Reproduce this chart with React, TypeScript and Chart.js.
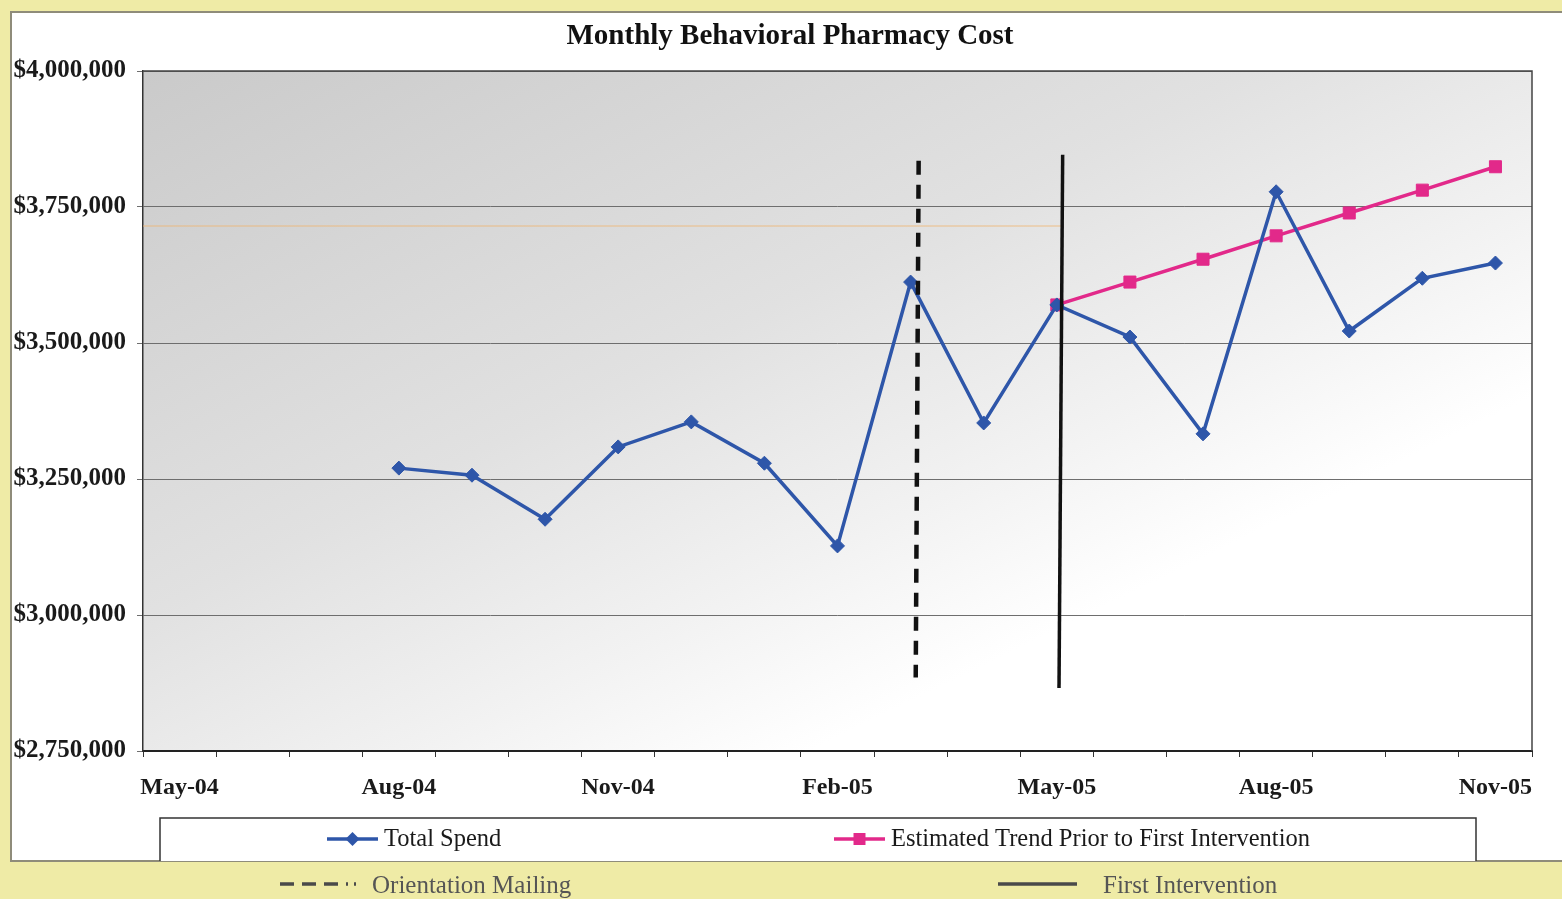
import React, { useEffect, useRef } from 'react';
import { Chart, registerables } from 'chart.js';

Chart.register(...registerables);

// ---------------- data ----------------
const months = [
  'May-04', 'Jun-04', 'Jul-04', 'Aug-04', 'Sep-04', 'Oct-04', 'Nov-04', 'Dec-04', 'Jan-05',
  'Feb-05', 'Mar-05', 'Apr-05', 'May-05', 'Jun-05', 'Jul-05', 'Aug-05', 'Sep-05', 'Oct-05', 'Nov-05',
];

const totalSpend: (number | null)[] = [
  null, null, null, 3270000, 3257000, 3176000, 3309000, 3355000, 3279000,
  3127000, 3612000, 3353000, 3570000, 3511000, 3333000, 3778000, 3522000, 3619000, 3647000,
];

const estimatedTrend: (number | null)[] = [
  null, null, null, null, null, null, null, null, null,
  null, null, null, 3570000, 3612000, 3654000, 3697000, 3739000, 3781000, 3824000,
];

const xAxisLabels = ['May-04', 'Aug-04', 'Nov-04', 'Feb-05', 'May-05', 'Aug-05', 'Nov-05'];

const yMin = 2750000;
const yMax = 4000000;
const yStep = 250000;

const chartTitle = 'Monthly Behavioral Pharmacy Cost';
const seriesNames = ['Total Spend', 'Estimated Trend Prior to First Intervention'];

// vertical event markers (month + fraction of a month step, value range)
const eventLines = [
  { name: 'Orientation Mailing', month: 'Mar-05', topShift: 0.11, bottomShift: 0.07, from: 2885000, to: 3835000, dashed: true },
  { name: 'First Intervention', month: 'May-05', topShift: 0.08, bottomShift: 0.03, from: 2866000, to: 3846000, dashed: false },
];

// faint scanned streak
const streakValue = 3715000;

// ---------------- styles ----------------
const W = 1562;
const H = 899;
const SERIF = '"Liberation Serif", "Times New Roman", serif';
const BLUE = '#2E56A9';
const PINK = '#E2298A';
const YELLOW = '#EFEBA6';

const decorPlugin = {
  id: 'decor',
  beforeDraw(chart: any) {
    const { ctx, chartArea } = chart;
    ctx.save();
    // page background
    ctx.fillStyle = YELLOW;
    ctx.fillRect(0, 0, W, H);
    // white panel
    ctx.fillStyle = '#ffffff';
    ctx.fillRect(11, 12, W - 11, 849);
    ctx.strokeStyle = '#8f8c7a';
    ctx.lineWidth = 2;
    ctx.beginPath();
    ctx.moveTo(W, 12);
    ctx.lineTo(11, 12);
    ctx.lineTo(11, 861);
    ctx.lineTo(W, 861);
    ctx.stroke();
    // plot area gradient (diagonal corner to corner)
    const { left, top, right, bottom } = chartArea;
    const w = right - left;
    const h = bottom - top;
    const t = (2 * w * h) / (w * w + h * h);
    const g = ctx.createLinearGradient(left, top, left + t * h, top + t * w);
    g.addColorStop(0, '#cacaca');
    g.addColorStop(0.4, '#e1e1e1');
    g.addColorStop(0.6, '#f2f2f2');
    g.addColorStop(0.74, '#ffffff');
    g.addColorStop(1, '#ffffff');
    ctx.fillStyle = g;
    ctx.fillRect(left, top, w, h);
    ctx.restore();
  },
  beforeDatasetsDraw(chart: any) {
    const { ctx, chartArea, scales } = chart;
    const xs = scales.x;
    const ys = scales.y;
    // faint streak
    const sy = ys.getPixelForValue(streakValue);
    const ix = months.indexOf(eventLines[1].month);
    const step = xs.getPixelForValue(1) - xs.getPixelForValue(0);
    const endX = xs.getPixelForValue(ix) + eventLines[1].topShift * step;
    ctx.save();
    ctx.strokeStyle = 'rgba(240,180,110,0.4)';
    ctx.lineWidth = 2;
    ctx.beginPath();
    ctx.moveTo(chartArea.left, sy);
    ctx.lineTo(endX, sy);
    ctx.stroke();
    // plot border (top & right)
    ctx.strokeStyle = '#444';
    ctx.lineWidth = 1.5;
    ctx.beginPath();
    ctx.moveTo(chartArea.left, chartArea.top);
    ctx.lineTo(chartArea.right, chartArea.top);
    ctx.lineTo(chartArea.right, chartArea.bottom);
    ctx.stroke();
    ctx.restore();
  },
  afterDatasetsDraw(chart: any) {
    const { ctx, scales } = chart;
    const xs = scales.x;
    const ys = scales.y;
    const step = xs.getPixelForValue(1) - xs.getPixelForValue(0);
    ctx.save();
    eventLines.forEach((ev) => {
      const i = months.indexOf(ev.month);
      const x0 = xs.getPixelForValue(i);
      ctx.strokeStyle = '#111';
      ctx.lineWidth = ev.dashed ? 4.5 : 3.5;
      ctx.setLineDash(ev.dashed ? [14, 10] : []);
      ctx.beginPath();
      ctx.moveTo(x0 + ev.topShift * step, ys.getPixelForValue(ev.to));
      ctx.lineTo(x0 + ev.bottomShift * step, ys.getPixelForValue(ev.from));
      ctx.stroke();
    });
    ctx.restore();
  },
  afterDraw(chart: any) {
    const { ctx } = chart;
    ctx.save();
    // title
    ctx.fillStyle = '#111';
    ctx.font = `bold 29px ${SERIF}`;
    ctx.textAlign = 'center';
    ctx.textBaseline = 'middle';
    ctx.fillText(chartTitle, 790, 37);

    // legend box
    ctx.fillStyle = '#ffffff';
    ctx.fillRect(160, 818, 1316, 43);
    ctx.strokeStyle = '#333';
    ctx.lineWidth = 1.5;
    ctx.beginPath();
    ctx.moveTo(160, 861);
    ctx.lineTo(160, 818);
    ctx.lineTo(1476, 818);
    ctx.lineTo(1476, 861);
    ctx.stroke();

    const ds = chart.data.datasets;
    const items = [
      { x: 327, color: ds[0].borderColor, style: 'diamond', label: ds[0].label },
      { x: 834, color: ds[1].borderColor, style: 'square', label: ds[1].label },
    ];
    items.forEach((it) => {
      const y = 839;
      ctx.strokeStyle = it.color;
      ctx.fillStyle = it.color;
      ctx.lineWidth = 3.5;
      ctx.setLineDash([]);
      ctx.beginPath();
      ctx.moveTo(it.x, y);
      ctx.lineTo(it.x + 51, y);
      ctx.stroke();
      const cx = it.x + 25.5;
      ctx.beginPath();
      if (it.style === 'diamond') {
        ctx.moveTo(cx, y - 7);
        ctx.lineTo(cx + 7, y);
        ctx.lineTo(cx, y + 7);
        ctx.lineTo(cx - 7, y);
        ctx.closePath();
      } else {
        ctx.rect(cx - 6, y - 6, 12, 12);
      }
      ctx.fill();
      ctx.fillStyle = '#1a1a1a';
      ctx.font = `24.5px ${SERIF}`;
      ctx.textAlign = 'left';
      ctx.textBaseline = 'middle';
      ctx.fillText(it.label, it.x + 57, y + 1);
    });

    // event legend (outside the panel)
    ctx.strokeStyle = '#4a4a4a';
    ctx.lineWidth = 3.5;
    ctx.setLineDash([14, 8]);
    ctx.beginPath();
    ctx.moveTo(280, 884);
    ctx.lineTo(348, 884);
    ctx.stroke();
    ctx.setLineDash([2, 2]);
    ctx.beginPath();
    ctx.moveTo(354, 884);
    ctx.lineTo(356, 884);
    ctx.stroke();
    ctx.setLineDash([]);
    ctx.beginPath();
    ctx.moveTo(998, 884);
    ctx.lineTo(1077, 884);
    ctx.stroke();
    ctx.fillStyle = '#555';
    ctx.font = `25px ${SERIF}`;
    ctx.textAlign = 'left';
    ctx.textBaseline = 'middle';
    ctx.fillText(eventLines[0].name, 372, 886);
    ctx.fillText(eventLines[1].name, 1103, 886);
    ctx.restore();
  },
};

export default function App() {
  const ref = useRef<HTMLCanvasElement>(null);

  useEffect(() => {
    if (!ref.current) return;
    const chart = new Chart(ref.current, {
      type: 'line',
      data: {
        labels: months,
        datasets: [
          {
            label: seriesNames[0],
            data: totalSpend,
            borderColor: BLUE,
            backgroundColor: BLUE,
            borderWidth: 3.5,
            pointStyle: 'rectRot',
            pointRadius: 7,
            pointBorderWidth: 1,
            tension: 0,
          },
          {
            label: seriesNames[1],
            data: estimatedTrend,
            borderColor: PINK,
            backgroundColor: PINK,
            borderWidth: 3.5,
            pointStyle: 'rect',
            pointRadius: 8.5,
            pointBorderWidth: 1,
            tension: 0,
          },
        ],
      },
      options: {
        responsive: false,
        animation: false,
        layout: { padding: { left: 0, top: 71, right: 30, bottom: 0 } },
        plugins: {
          legend: { display: false },
          title: { display: false },
          tooltip: { enabled: false },
        },
        scales: {
          x: {
            type: 'category',
            offset: true,
            afterFit: (s: any) => { s.height = 148; },
            grid: { drawOnChartArea: false, drawTicks: true, tickLength: 6, color: '#333', offset: true },
            border: { display: true, color: '#222', width: 2 },
            ticks: {
              autoSkip: false,
              maxRotation: 0,
              minRotation: 0,
              padding: 16,
              color: '#1a1a1a',
              font: { family: SERIF, size: 24, weight: 'bold' },
              callback: function (this: any, _v: any, i: number) {
                const l = months[i];
                return xAxisLabels.includes(l) ? l : '';
              },
            },
          },
          y: {
            type: 'linear',
            min: yMin,
            max: yMax,
            afterFit: (s: any) => { s.width = 143; },
            grid: { color: '#6e6e6e', lineWidth: 1, drawTicks: true, tickLength: 6 },
            border: { display: true, color: '#333', width: 1.5 },
            ticks: {
              stepSize: yStep,
              padding: 11,
              color: '#1a1a1a',
              font: { family: SERIF, size: 25, weight: 'bold' },
              callback: (v: any) => '$' + Number(v).toLocaleString('en-US'),
            },
          },
        },
      },
      plugins: [decorPlugin],
    } as any);
    return () => chart.destroy();
  }, []);

  return (
    <div style={{ position: 'absolute', left: 0, top: 0, width: W, height: H }}>
      <canvas ref={ref} width={W} height={H} style={{ display: 'block', width: W, height: H }} />
    </div>
  );
}
